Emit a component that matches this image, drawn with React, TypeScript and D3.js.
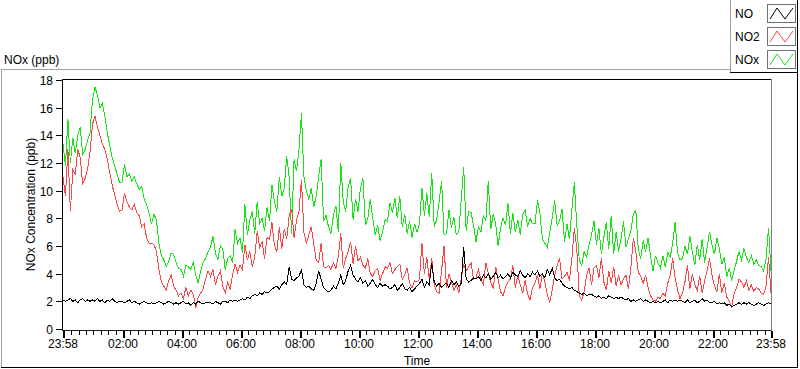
import React from 'react';
import * as d3 from 'd3';

// sample times, minutes after 23:58 (5 minute steps)
const minutes = d3.range(0, 1441, 5);

// NOx (green), one row per hour
const nox = [
  13.4, 11.8, 15.2, 12.0, 13.8, 12.7, 14.0, 14.6, 12.6, 13.0, 13.6, 14.2,
  16.6, 17.5, 16.9, 16.0, 16.3, 15.4, 14.2, 13.3, 12.4, 11.8, 11.2, 10.6,
  10.6, 11.9, 11.0, 11.2, 10.7, 11.0, 10.5, 10.1, 10.3, 9.4, 9.0, 8.4,
  7.6, 8.3, 7.9, 6.2, 5.3, 5.0, 4.5, 4.9, 5.5, 5.4, 4.8, 4.4,
  4.3, 3.8, 4.6, 4.5, 4.3, 4.8, 3.9, 3.3, 4.2, 4.8, 5.1, 5.6,
  5.9, 6.7, 5.5, 5.0, 6.0, 5.8, 4.3, 5.1, 5.3, 4.8, 7.2, 6.2,
  6.6, 5.5, 9.0, 6.8, 7.9, 8.5, 6.9, 9.2, 7.6, 8.0, 7.1, 8.8,
  7.8, 10.4, 9.2, 8.5, 11.0, 9.6, 10.2, 12.5, 11.0, 6.9, 12.3, 11.4,
  13.0, 15.6, 11.0, 10.0, 9.4, 10.2, 8.8, 9.6, 11.0, 12.3, 7.8, 8.2,
  7.4, 6.9, 8.2, 8.9, 7.0, 12.0, 9.2, 8.5, 10.3, 10.9, 7.9, 9.4,
  8.5, 10.2, 10.9, 7.5, 8.0, 9.4, 8.0, 6.8, 7.5, 6.4, 7.0, 7.9,
  7.8, 9.1, 8.4, 9.5, 8.0, 9.6, 7.4, 8.3, 6.9, 7.8, 6.6, 7.6,
  7.0, 7.6, 10.2, 8.2, 9.8, 8.1, 11.3, 7.4, 7.9, 9.2, 10.7, 6.8,
  6.9, 8.6, 7.3, 8.1, 6.8, 7.0, 9.4, 11.7, 7.1, 8.5, 8.4, 7.5,
  6.3, 7.4, 7.0, 8.2, 7.8, 10.7, 7.2, 8.3, 7.6, 6.0, 7.3, 8.0,
  7.5, 9.1, 6.9, 8.4, 7.0, 7.9, 6.8, 8.3, 8.6, 7.4, 8.0, 7.6,
  7.6, 9.3, 8.4, 6.5, 6.2, 5.9, 7.0, 8.0, 9.3, 7.5, 7.8, 8.7,
  6.3, 7.6, 6.5, 8.6, 10.6, 7.5, 5.0, 4.6, 5.6, 5.2, 6.1, 6.8,
  7.8, 6.1, 7.3, 5.4, 6.6, 7.7, 5.8, 8.2, 5.4, 7.0, 5.6, 6.5,
  7.8, 5.9, 6.5, 7.1, 8.3, 8.6, 5.8, 5.1, 6.4, 5.6, 6.6, 5.3,
  4.2, 5.3, 4.8, 4.4, 5.3, 4.5, 5.5, 5.2, 6.2, 7.7, 5.5, 5.0,
  5.1, 6.0, 5.4, 6.7, 5.6, 4.6, 6.1, 5.0, 6.5, 4.8, 5.9, 7.0,
  6.1, 5.4, 6.6, 5.8, 4.7, 5.2, 3.8, 4.4, 3.5, 4.2, 4.9, 5.6,
  5.0, 5.8, 5.2, 4.8, 5.3, 4.7, 5.0, 4.6, 4.5, 4.2, 5.1, 7.3,
  4.2,
];

// NO2 (red)
const no2 = [
  11.0, 9.6, 13.0, 8.5, 11.5, 11.2, 13.0, 12.4, 10.5, 10.9, 11.6, 12.8,
  14.8, 15.4, 14.6, 14.0, 13.4, 13.0, 12.3, 11.3, 10.4, 9.7, 9.0, 8.5,
  8.6, 9.8, 9.2, 8.8, 8.6, 9.0, 8.4, 8.2, 7.4, 7.6, 6.6, 6.2,
  6.2, 6.1, 5.6, 4.3, 3.4, 3.1, 2.8, 3.5, 3.9, 3.1, 2.8, 2.4,
  2.6, 2.2, 3.0, 2.4, 2.8, 2.5, 1.5, 2.3, 2.6, 2.9, 3.6, 4.2,
  3.8, 4.3, 3.2, 3.8, 4.2, 3.1, 2.6, 3.4, 2.9, 3.9, 4.7, 4.1,
  4.6, 4.3, 6.1, 5.0, 5.6, 4.5, 5.2, 7.1, 5.9, 6.3, 5.1, 6.6,
  6.5, 7.7, 6.0, 5.6, 7.4, 5.8, 7.2, 6.5, 8.2, 8.7, 6.6, 7.9,
  8.5, 10.8, 7.0, 6.2, 6.8, 7.4, 6.1, 5.0, 4.8, 6.2, 4.5, 4.4,
  4.6, 4.3, 4.8, 4.4, 5.2, 6.9, 4.4, 5.1, 5.6, 6.3, 4.7, 6.0,
  4.9, 5.2, 4.6, 4.4, 5.1, 4.0, 3.8, 4.2, 4.4, 3.5, 4.0, 4.5,
  4.4, 4.8, 4.0, 4.3, 4.5, 4.7, 3.6, 3.9, 4.4, 3.3, 3.0, 3.5,
  3.4, 3.6, 6.2, 4.0, 5.2, 3.6, 5.1, 3.2, 2.7, 2.6, 4.2, 6.0,
  3.0, 4.0, 3.4, 2.8, 3.2, 2.6, 3.6, 4.7, 4.2, 4.5, 4.8, 3.6,
  3.7, 4.3, 3.6, 3.2, 4.8, 4.0, 3.4, 2.9, 4.5, 3.6, 2.7, 2.4,
  3.0, 3.4, 3.6, 4.6, 3.0, 3.9, 3.2, 2.6, 3.5, 2.5, 2.1, 3.0,
  3.3, 3.9, 2.9, 4.0, 3.4, 2.5, 1.9, 2.8, 3.9, 4.6, 5.1, 3.6,
  3.8, 4.1, 3.5, 5.1, 7.3, 5.8, 2.4, 2.1, 2.7, 3.9, 4.4, 3.2,
  4.4, 4.6, 3.7, 5.1, 3.4, 2.8, 4.2, 3.3, 4.5, 3.1, 3.9, 3.2,
  3.6, 3.9, 2.9, 4.4, 6.6, 5.6, 4.1, 3.8, 3.3, 3.9, 3.0, 2.4,
  2.1, 2.0, 2.3, 2.2, 2.6, 2.4, 3.3, 3.9, 5.1, 3.7, 2.8, 2.2,
  2.6, 3.4, 4.6, 2.9, 4.0, 3.2, 2.8, 3.8, 2.6, 3.5, 4.2, 5.1,
  3.9, 3.1, 2.7, 4.0, 2.6, 3.3, 2.3, 2.0, 1.6, 2.6, 3.0, 3.6,
  3.4, 3.0, 3.5, 2.8, 3.2, 2.7, 3.0, 2.9, 2.6, 2.5, 3.1, 5.2,
  2.6,
];

// NO (black)
const no = [
  2.1, 2.0, 2.1, 2.2, 2.0, 2.1, 1.9, 2.1, 2.2, 2.0, 2.1, 2.0,
  2.1, 2.0, 2.2, 2.0, 2.1, 1.9, 2.1, 2.0, 2.2, 2.0, 1.9, 2.0,
  2.0, 1.9, 2.0, 2.1, 1.9, 2.0, 1.9, 1.8, 1.9, 2.0, 1.9, 1.8,
  1.9, 1.8, 1.9, 2.0, 1.9, 1.8, 1.9, 2.0, 1.9, 1.8, 1.9, 1.8,
  1.9, 2.0, 1.8, 1.9, 1.7, 1.9, 1.8, 2.0, 1.9, 1.8, 1.9, 1.9,
  1.9, 1.8, 2.0, 1.9, 1.8, 2.0, 2.0, 1.9, 2.1, 2.0, 2.1, 2.0,
  2.1, 2.2, 2.1, 2.3, 2.2, 2.4, 2.5, 2.4, 2.6, 2.5, 2.7, 2.6,
  2.7, 2.9, 3.0, 3.1, 2.9, 3.2, 3.4, 3.2, 4.5, 3.6, 3.5, 3.7,
  3.8, 4.3, 3.2, 3.0, 3.1, 2.9, 2.8, 3.3, 4.2, 3.6, 3.0, 2.8,
  2.7, 2.8, 3.1, 2.9, 3.3, 3.9, 3.2, 3.5, 4.2, 4.6, 3.9, 3.6,
  3.4, 3.7, 3.3, 3.5, 3.1, 3.3, 3.6, 3.2, 3.0, 3.3, 3.1, 3.2,
  3.1, 2.9, 3.0, 3.2, 2.8, 3.0, 3.3, 2.9, 2.8, 3.0, 2.7, 2.9,
  3.1, 3.3, 3.6, 3.0, 3.4, 3.2, 4.8, 3.4, 3.1, 3.3, 3.0, 3.2,
  3.3, 3.0, 3.5, 3.2, 3.4, 3.1, 3.3, 5.9, 3.6, 3.4, 3.5, 3.7,
  3.6, 3.8, 3.5, 3.9, 3.7, 4.0, 3.6, 3.8, 4.1, 3.7, 3.9, 3.6,
  3.8, 4.0, 3.7, 4.1, 3.9, 3.8, 4.2, 3.9, 3.7, 4.0, 3.8, 4.1,
  3.9, 4.2, 3.8, 4.0, 3.7, 4.3, 3.9, 4.4, 3.7, 3.5, 3.6, 3.3,
  3.1, 3.0, 2.9, 3.0, 2.8, 2.7, 2.6, 2.5, 2.6, 2.4, 2.5, 2.5,
  2.4, 2.3, 2.4, 2.2, 2.3, 2.2, 2.4, 2.3, 2.2, 2.3, 2.2, 2.3,
  2.2, 2.1, 2.2, 2.0, 2.1, 2.0, 2.1, 2.2, 2.0, 2.1, 2.0, 1.9,
  2.0, 1.9, 2.0, 1.9, 2.0, 2.1, 1.9, 2.1, 2.0, 2.1, 2.0, 2.1,
  2.0, 1.9, 2.1, 1.9, 2.0, 2.1, 1.9, 2.0, 2.2, 2.0, 2.1, 1.9,
  1.9, 2.0, 1.8, 1.9, 1.8, 1.9, 1.7, 1.8, 1.6, 1.7, 1.8, 1.9,
  1.8, 1.9, 1.8, 1.9, 1.8, 1.7, 1.8, 1.9, 1.8, 1.7, 1.8, 1.9,
  1.8,
];

const xTickMinutes = [0, 122, 242, 362, 482, 602, 722, 842, 962, 1082, 1202, 1322, 1440];
const xTickLabels = ['23:58', '02:00', '04:00', '06:00', '08:00', '10:00', '12:00', '14:00', '16:00', '18:00', '20:00', '22:00', '23:58'];
const yTicks = [0, 2, 4, 6, 8, 10, 12, 14, 16, 18];

const legendNames = ['NO', 'NO2', 'NOx'];
const legendColors = ['#000000', '#f84848', '#18e418'];

const font = 'Tahoma, "Liberation Sans", Arial, sans-serif';

export default function App() {
  const x = d3.scaleLinear().domain([0, 1440]).range([63, 771]);
  const y = d3.scaleLinear().domain([0, 18]).range([329, 80]);

  const line = d3.line<number>()
    .x((_, i) => x(minutes[i]))
    .y(d => y(d));

  // minor ticks every 15 min on the clock, skipping the labelled ones
  const minorTicks = d3.range(2, 1440, 15).filter(t => xTickMinutes.every(m => Math.abs(m - t) > 5));

  const series = [
    { vals: nox, color: legendColors[2] },
    { vals: no2, color: legendColors[1] },
    { vals: no, color: legendColors[0] },
  ];

  return (
    <svg width={800} height={369} style={{ position: 'absolute', left: 0, top: 0, background: '#fff' }}
      fontFamily={font} fontSize={12}>
      {/* outer frame */}
      <line x1={1} x2={730} y1={69.5} y2={69.5} stroke="#a0a0a0" />
      <line x1={1.5} x2={1.5} y1={69.5} y2={367} stroke="#a0a0a0" />
      <line x1={1} x2={798} y1={367.5} y2={367.5} stroke="#000" />
      <line x1={797.5} x2={797.5} y1={72} y2={368} stroke="#000" />

      <text x={4} y={64} fill="#000">NOx (ppb)</text>

      {/* legend */}
      <line x1={730.5} x2={730.5} y1={0} y2={72} stroke="#a0a0a0" />
      <line x1={730} x2={798} y1={72.5} y2={72.5} stroke="#000" />
      <line x1={797.5} x2={797.5} y1={0} y2={73} stroke="#000" />
      {legendNames.map((n, i) => {
        const top = 4 + i * 23;
        const x0 = 767;
        return (
          <g key={n}>
            <text x={735} y={top + 14} fill="#000">{n}</text>
            <rect x={x0 + 0.5} y={top + 0.5} width={28} height={18} fill="#fff" stroke="#707070" />
            <polyline
              points={`${x0 + 3},${top + 15} ${x0 + 10},${top + 4} ${x0 + 18},${top + 15} ${x0 + 26},${top + 4}`}
              fill="none" stroke={legendColors[i]} strokeWidth={1} />
          </g>
        );
      })}

      {/* data */}
      <g shapeRendering="crispEdges">
        {series.map((s, i) => (
          <path key={i} d={line(s.vals) || ''} fill="none" stroke={s.color} strokeWidth={1} />
        ))}
      </g>

      {/* plot frame */}
      <line x1={62.5} x2={62.5} y1={79} y2={331} stroke="#000" />
      <line x1={62} x2={772} y1={79.5} y2={79.5} stroke="#000" />
      <line x1={62} x2={772} y1={330.5} y2={330.5} stroke="#202020" />
      <line x1={771.5} x2={771.5} y1={79} y2={331} stroke="#808080" />

      {/* y axis */}
      {yTicks.map(t => (
        <g key={t}>
          <line x1={56} x2={62} y1={Math.round(y(t)) + 0.5} y2={Math.round(y(t)) + 0.5} stroke="#000" />
          <text x={53} y={Math.round(y(t)) + 4.5} textAnchor="end" fill="#000">{t}</text>
        </g>
      ))}
      <text transform="translate(35,204.5) rotate(-90)" textAnchor="middle" fill="#000">NOx Concentration (ppb)</text>

      {/* x axis */}
      {minorTicks.map(t => (
        <line key={t} x1={Math.round(x(t)) + 0.5} x2={Math.round(x(t)) + 0.5} y1={331} y2={335} stroke="#000" />
      ))}
      {xTickMinutes.map((t, i) => (
        <g key={i}>
          <line x1={Math.round(x(t)) + 1} x2={Math.round(x(t)) + 1} y1={331} y2={338} stroke="#000" strokeWidth={2} />
          <text x={x(t)} y={348} textAnchor="middle" fill="#000">{xTickLabels[i]}</text>
        </g>
      ))}
      <text x={417} y={365} textAnchor="middle" fill="#000">Time</text>
    </svg>
  );
}
